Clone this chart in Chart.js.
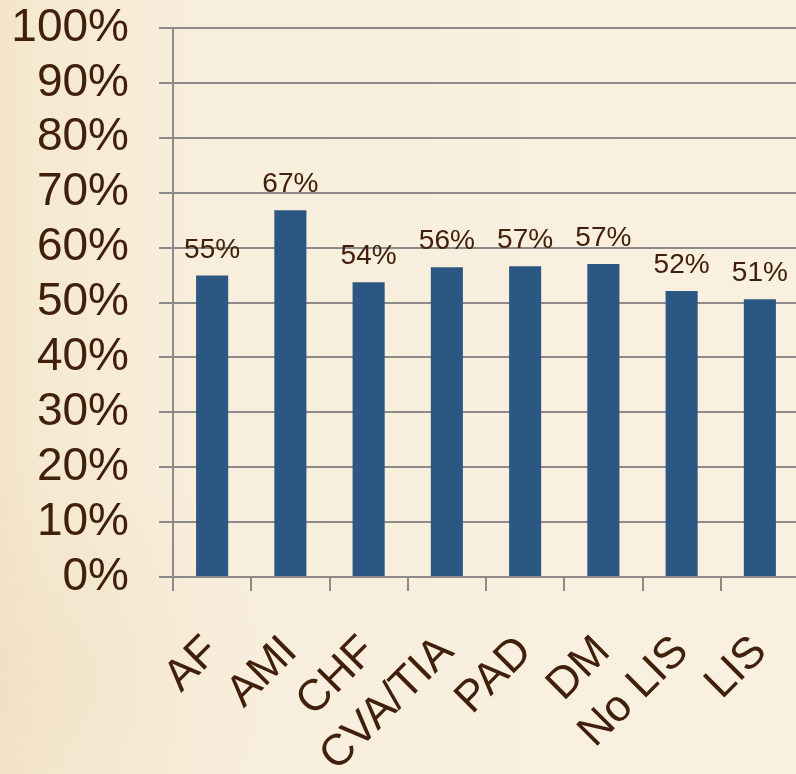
<!DOCTYPE html>
<html>
<head>
<meta charset="utf-8">
<script src="https://cdn.jsdelivr.net/npm/chart.js@4"></script>
<style>
  html, body { margin: 0; padding: 0; overflow: hidden; background: #f7eddb; }
  #wrap { width: 800px; height: 800px; }
</style>
</head>
<body>
<div id="wrap"><canvas id="barChart" width="800" height="800"></canvas></div>
<script>
// share of patients per group (%)
const groups = ['AF', 'AMI', 'CHF', 'CVA/TIA', 'PAD', 'DM', 'No LIS', 'LIS'];
const shares = [54.9, 66.8, 53.7, 56.4, 56.6, 57.0, 52.1, 50.6];
const yTicks = [0, 10, 20, 30, 40, 50, 60, 70, 80, 90, 100];

const textColor = '#40200a';
const gridColor = '#8e8a8a';

// parchment-like backdrop
const paperBg = {
    id: 'paperBg',
    beforeDraw(chart) {
        const ctx = chart.ctx;
        const w = chart.width, h = chart.height;
        ctx.save();
        const g = ctx.createLinearGradient(0, 0, w, 0);
        g.addColorStop(0, '#f3e4c8');
        g.addColorStop(0.05, '#f6e9d2');
        g.addColorStop(0.25, '#f8eedc');
        g.addColorStop(1, '#f9f0e0');
        ctx.fillStyle = g;
        ctx.fillRect(0, 0, w, h);
        const r = ctx.createRadialGradient(40, 680, 10, 40, 680, 240);
        r.addColorStop(0, 'rgba(232,212,176,0.25)');
        r.addColorStop(1, 'rgba(232,212,176,0)');
        ctx.fillStyle = r;
        ctx.fillRect(0, 0, w, h);
        ctx.restore();
    }
};

// value labels above each bar
const barLabels = {
    id: 'barLabels',
    afterDatasetsDraw(chart) {
        const ctx = chart.ctx;
        const meta = chart.getDatasetMeta(0);
        ctx.save();
        ctx.font = '28px Arial, "Liberation Sans", sans-serif';
        ctx.fillStyle = textColor;
        ctx.textAlign = 'center';
        ctx.textBaseline = 'alphabetic';
        meta.data.forEach((bar, i) => {
            ctx.fillText(Math.round(shares[i]) + '%', bar.x, bar.y - 18);
        });
        ctx.restore();
    }
};

const ctx = document.getElementById('barChart').getContext('2d');
const barChart = new Chart(ctx, {
    type: 'bar',
    data: {
        labels: groups,
        datasets: [{
            data: shares,
            backgroundColor: '#2c5782',
            borderWidth: 0,
            categoryPercentage: 1,
            barPercentage: 0.41
        }]
    },
    options: {
        responsive: false,
        animation: false,
        layout: { padding: { top: 0, right: 1, left: 0, bottom: 0 } },
        plugins: {
            legend: { display: false },
            tooltip: { enabled: false }
        },
        scales: {
            x: {
                grid: {
                    drawOnChartArea: false,
                    drawTicks: true,
                    tickLength: 14,
                    color: gridColor,
                    lineWidth: 2
                },
                border: { color: gridColor, width: 2 },
                ticks: {
                    color: textColor,
                    font: { family: 'Arial, "Liberation Sans", sans-serif', size: 44 },
                    minRotation: 45,
                    maxRotation: 45,
                    autoSkip: false,
                    padding: 35
                },
                afterFit(scale) {
                    scale.height = 800 - 577;
                    scale.paddingLeft = 0;
                    scale.paddingRight = 0;
                }
            },
            y: {
                min: 0,
                max: 100,
                afterBuildTicks(scale) { scale.ticks = yTicks.map(v => ({ value: v })); },
                grid: {
                    color: gridColor,
                    lineWidth: 2,
                    tickLength: 14
                },
                border: { color: gridColor, width: 2 },
                ticks: {
                    color: textColor,
                    font: { family: 'Arial, "Liberation Sans", sans-serif', size: 46 },
                    autoSkip: false,
                    padding: 30,
                    callback: v => v + '%'
                },
                afterFit(scale) {
                    scale.width = 173;
                    scale.paddingTop = 28;
                    scale.paddingBottom = 0;
                }
            }
        }
    },
    plugins: [paperBg, barLabels]
});
</script>
</body>
</html>
